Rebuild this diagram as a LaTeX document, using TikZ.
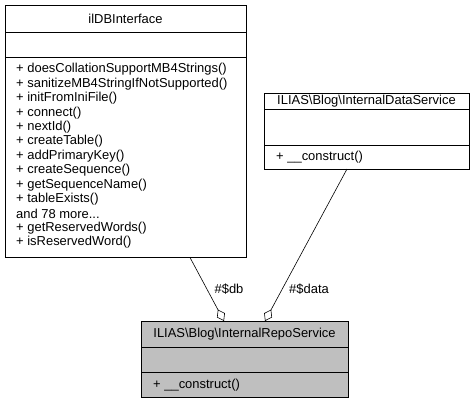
\documentclass[tikz,border=0pt]{standalone}
\usepackage{fontspec}
\setmainfont{Liberation Sans}
\usetikzlibrary{arrows.meta}
\newcommand\mydots{...}
\begin{document}
\begin{tikzpicture}[x=1bp,y=-1bp,
  box/.style={draw,line width=0.8bp,inner sep=0pt,anchor=north west},
  lbl/.style={font=\fontsize{13}{15}\selectfont,inner sep=0pt},
  mem/.style={lbl,anchor=west},
  agg/.style={draw,line width=0.6bp,-{Diamond[open,length=13bp,width=9bp,line width=0.6bp]}}]
\useasboundingbox (0,0) rectangle (475,404);
% ilDBInterface
\node[box,minimum width=241bp,minimum height=252bp] (db) at (5,5) {};
\draw[line width=0.8bp] (5,32) -- (246,32) (5,57) -- (246,57);
\node[lbl] (dbt) at (125.5,18.5) {ilDBInterface};
\foreach \t [count=\i from 0] in {{+ doesCollationSupportMB4Strings()},{+ sanitizeMB4StringIfNotSupported()},{+ initFromIniFile()},{+ connect()},{+ nextId()},{+ createTable()},{+ addPrimaryKey()},{+ createSequence()},{+ getSequenceName()},{+ tableExists()},{and 78 more\mydots},{+ getReservedWords()},{+ isReservedWord()}}
  \node[mem] (dbm\i) at (16,69.5+14.4*\i) {\t};
% InternalDataService
\node[box,minimum width=205bp,minimum height=76bp] (ds) at (264,93) {};
\draw[line width=0.8bp] (264,109) -- (469,109) (264,145) -- (469,145);
\node[lbl] (dst) at (366.5,101.5) {ILIAS\textbackslash Blog\textbackslash InternalDataService};
\node[mem] (dsm) at (276,157.5) {+ \_\_construct()};
% InternalRepoService
\node[box,fill=black!25,minimum width=207bp,minimum height=76bp] (rs) at (141,321) {};
\draw[line width=0.8bp] (141,347) -- (348,347) (141,372) -- (348,372);
\node[lbl] (rst) at (244.5,334.5) {ILIAS\textbackslash Blog\textbackslash InternalRepoService};
\node[mem] (rsm) at (153,385.5) {+ \_\_construct()};
% edges
\coordinate (a1) at (190,257.5);
\coordinate (a2) at (224,321);
\coordinate (b1) at (347,169);
\coordinate (b2) at (265,321);
\draw[agg] (a1) -- (a2);
\draw[agg] (b1) -- (b2);
\node[lbl] (ldb) at (229,289) {\#\$db};
\node[lbl] (lda) at (309,289) {\#\$data};
\end{tikzpicture}
\end{document}
